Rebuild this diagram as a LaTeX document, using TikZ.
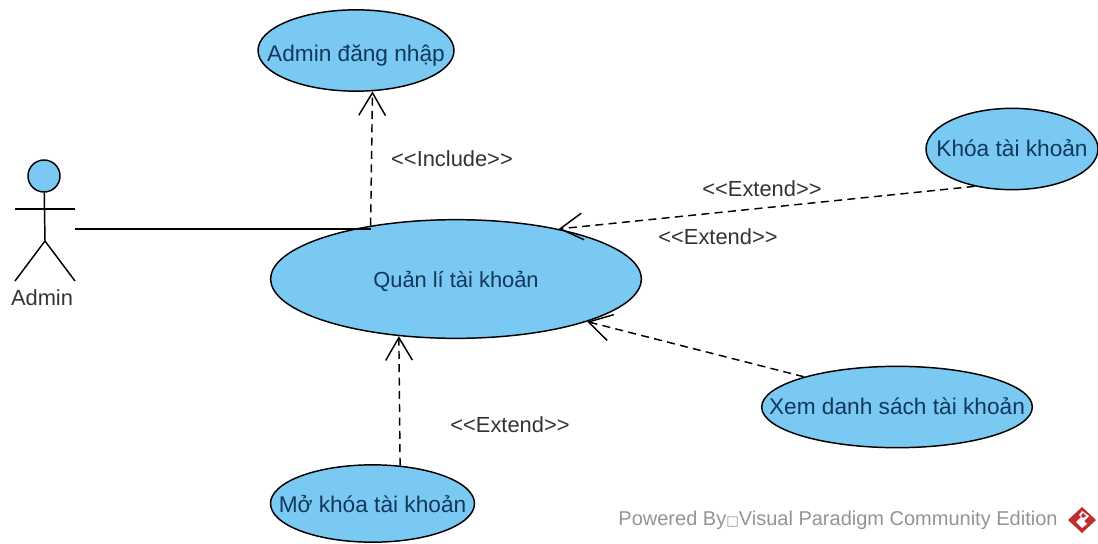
\documentclass[tikz,border=0pt]{standalone}
\usepackage{fontspec}
\usepackage{tikz}
\usetikzlibrary{arrows.meta,shapes.geometric}
\setmainfont{Liberation Sans}
\newfontfamily\boxfont{DejaVu Sans}
\definecolor{qqccff}{rgb}{0.48,0.79,0.95}
\definecolor{qqtext}{rgb}{0.2,0.2,0.2}
\definecolor{qqnavy}{rgb}{0.07,0.22,0.36}
\definecolor{qqgrey}{rgb}{0.58,0.58,0.58}
\definecolor{qqred}{rgb}{0.75,0.18,0.18}
\newcommand{\stereo}[1]{{<}{<}#1{>}{>}}
\newcommand{\uctext}[2]{\raisebox{#1}[0pt][0pt]{\makebox[0pt]{#2}}}
\tikzset{
  usecase/.style={ellipse,draw=black,line width=1.1pt,fill=qqccff,inner sep=0pt,text=qqnavy,font=\fontsize{17}{20}\selectfont},
  dep/.style={dash pattern=on 6pt off 4pt,line width=1.1pt,-{Straight Barb[length=17pt,width=20pt,line width=1.1pt]}},
  lbl/.style={text=qqtext}
}
\begin{document}
\begin{tikzpicture}[line cap=butt,line join=round,x=0.75pt,y=-0.75pt,font=\fontsize{16.4}{19}\selectfont]
	\useasboundingbox (0,0) rectangle (1098,543);
	% use cases
	\node [usecase,minimum width=147pt,minimum height=61pt] (dangNhap) at (356,50.5) {\uctext{-8pt}{Admin đăng nhập}};
	\node [usecase,minimum width=278pt,minimum height=89pt,font=\fontsize{16.4}{19}\selectfont] (quanLi) at (456,279) {\uctext{-6.5pt}{Quản lí tài khoản}};
	\node [usecase,minimum width=129pt,minimum height=61pt] (khoa) at (1012,149) {\uctext{-5.5pt}{Khóa tài khoản}};
	\node [usecase,minimum width=203pt,minimum height=61pt] (xem) at (897,407) {\uctext{-5.5pt}{Xem danh sách tài khoản}};
	\node [usecase,minimum width=153pt,minimum height=58pt] (moKhoa) at (372.5,503.5) {\uctext{-7pt}{Mở khóa tài khoản}};
	% actor
	\node [circle,draw=black,line width=1.1pt,fill=qqccff,minimum size=24pt,inner sep=0pt] (head) at (44,176) {};
	\coordinate (hip) at (45,241);
	\coordinate (armL) at (15,209);
	\coordinate (armR) at (75,209);
	\coordinate (legL) at (15,281);
	\coordinate (legR) at (75,281);
	\coordinate (hand) at (75,229);
	\draw [line width=1.1pt] (head) -- (hip);
	\draw [line width=1.1pt] (armL) -- (armR);
	\draw [line width=1.1pt] (legL) -- (hip) -- (legR);
	\node [lbl] (actor) at (42,298) {Admin};
	% connectors
	\draw [line width=1.4pt] (hand) -- (hand -| quanLi.148);
	\draw [dep] (quanLi.148) -- (dangNhap.-68);
	\draw [dep] (khoa.225) -- (quanLi.26);
	\draw [dep] (xem.162) -- (quanLi.-18);
	\draw [dep] (moKhoa.54) -- (quanLi.225);
	% labels
	\node [lbl] (inc) at (452,159) {\stereo{Include}};
	\node [lbl] (extKhoa) at (762,189) {\stereo{Extend}};
	\node [lbl] (extXem) at (718,237) {\stereo{Extend}};
	\node [lbl] (extMo) at (510,425) {\stereo{Extend}};
	\node [text=qqgrey,font=\fontsize{15}{18}\selectfont] (powered) at (838,520) {Powered By{\boxfont\fontsize{10}{10}\selectfont □}Visual Paradigm Community Edition};
	% logo
	\fill [qqred] (1082,507) -- (1096,520) -- (1082,533) -- (1068,520) -- cycle;
	\fill [white] (1082,511) -- (1089,516) -- (1084,521) -- (1087,524) -- (1082,528) -- (1076,522) -- (1081,517) -- (1079,515) -- cycle;
	\fill [qqred] (1083,513) -- (1086,516) -- (1083,518) -- (1081,516) -- cycle;
\end{tikzpicture}
\end{document}
